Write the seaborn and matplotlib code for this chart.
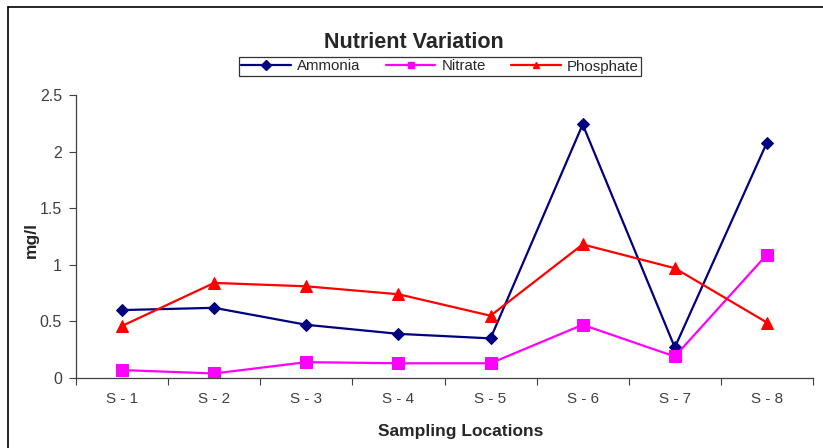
import matplotlib
matplotlib.use("Agg")
import matplotlib.pyplot as plt
from matplotlib.lines import Line2D
import seaborn as sns
import pandas as pd

sns.set_theme(style="white")
plt.rcParams["font.family"] = ["Liberation Sans", "DejaVu Sans"]

locations = ["S - 1", "S - 2", "S - 3", "S - 4", "S - 5", "S - 6", "S - 7", "S - 8"]
ammonia = [0.60, 0.62, 0.47, 0.39, 0.35, 2.24, 0.27, 2.08]
nitrate = [0.07, 0.04, 0.14, 0.13, 0.13, 0.47, 0.19, 1.09]
phosphate = [0.46, 0.84, 0.81, 0.74, 0.55, 1.18, 0.97, 0.49]
y_ticks = [0, 0.5, 1, 1.5, 2, 2.5]
y_tick_labels = ["0", "0.5", "1", "1.5", "2", "2.5"]

series = [
    ("Ammonia", ammonia, "#000080", "D", 6),
    ("Nitrate", nitrate, "#FF00FF", "s", 8),
    ("Phosphate", phosphate, "#FF0000", "^", 8),
]

fig = plt.figure(figsize=(8.23, 4.48), dpi=100)
ax = fig.add_axes([76 / 823, 1 - 378 / 448, (813 - 76) / 823, (378 - 95) / 448])

pos = list(range(len(locations)))
handles = []
for name, vals, color, marker, ms in series:
    df = pd.DataFrame({"pos": pos, "value": vals})
    sns.lineplot(data=df, x="pos", y="value", ax=ax, color=color, marker=marker,
                 markersize=ms, markeredgecolor=color, linewidth=1.6, legend=False)
    handles.append(Line2D([0], [0], color=color, marker=marker, markersize=5,
                          markeredgecolor=color, linewidth=1.6, label=name))

ax.set_xlim(-0.5, len(locations) - 0.5)
ax.set_ylim(0, 2.5)
ax.set_yticks(y_ticks)
ax.set_yticklabels(y_tick_labels)
ax.set_xticks(pos)
ax.set_xticklabels(locations)
ax.set_xticks([p - 0.5 for p in pos] + [len(locations) - 0.5], minor=True)
ax.tick_params(axis="x", which="major", bottom=True, length=0, pad=10,
               labelsize=11, labelcolor="#404040")
ax.tick_params(axis="x", which="minor", bottom=True, length=5, width=0.8,
               color="#404040", direction="out")
ax.tick_params(axis="y", which="major", left=True, length=5, width=0.8, color="#404040",
               direction="out", labelsize=11.5, labelcolor="#404040", pad=5)

for side in ["top", "right"]:
    ax.spines[side].set_visible(False)
for side in ["left", "bottom"]:
    ax.spines[side].set_color("#404040")
    ax.spines[side].set_linewidth(0.9)

ax.set_xlabel("Sampling Locations", fontsize=12.5, fontweight="bold")
ax.xaxis.set_label_coords((461 - 76) / (813 - 76), -(431 - 378) / (378 - 95))
ax.xaxis.label.set_va("center")
ax.set_ylabel("mg/l", fontsize=12.5, fontweight="bold")
ax.yaxis.set_label_coords(-(76 - 31) / (813 - 76), (378 - 240) / (378 - 95))
ax.yaxis.label.set_va("center")

fig.text(414 / 823, 1 - 42 / 448, "Nutrient Variation", ha="center", va="center",
         fontsize=15.5, fontweight="bold")

leg = fig.legend(handles=handles, loc="center", bbox_to_anchor=(440 / 823, 1 - 66.5 / 448),
                 ncol=3, frameon=True, fontsize=10.8, handlelength=3.3,
                 columnspacing=1.7, handletextpad=0.4, borderpad=0.15,
                 borderaxespad=0, fancybox=False)
leg.get_frame().set_edgecolor("black")
leg.get_frame().set_linewidth(0.9)

# outer frame lines on the left and top
fig.add_artist(Line2D([8 / 823, 8 / 823], [0, 1 - 7 / 448], transform=fig.transFigure,
                      color="black", linewidth=1.2))
fig.add_artist(Line2D([8 / 823, 1], [1 - 7 / 448, 1 - 7 / 448], transform=fig.transFigure,
                      color="black", linewidth=1.2))

fig.savefig("out.png", dpi=100)
